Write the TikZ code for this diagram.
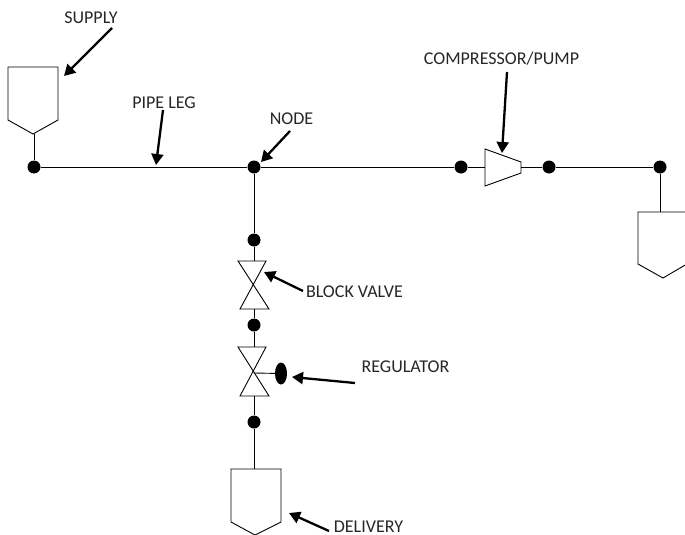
\documentclass[tikz,border=0pt]{standalone}
\usepackage{fontspec}
\setmainfont{Carlito}
\usetikzlibrary{arrows.meta,shapes.geometric}
\tikzset{
  pipe/.style={draw=black,line width=0.9pt},
  junction/.style={circle,fill=black,draw=none,minimum size=13pt,inner sep=0pt},
  pointer/.style={draw=black,line width=2.3pt,-{Triangle[length=11pt,width=12pt]},shorten >=0pt},
  lbl/.style={inner sep=0pt,font=\fontsize{18}{20}\selectfont,text=black!85}
}
\begin{document}
\begin{tikzpicture}[x=1pt,y=-1pt]
\useasboundingbox (0,0) rectangle (685,535);
\clip (0,0) rectangle (685,535);
% tanks and equipment
\draw[pipe] (8,67) -- (58,67) -- (58,120) -- (33,134) -- (8,120) -- cycle;
\coordinate (supplyTip) at (34,134);
\coordinate (supplyEdge) at (64,76);
\draw[pipe] (485,149) -- (521,162) -- (521,173) -- (485,186) -- cycle;
\coordinate (compIn) at (485,167);
\coordinate (compOut) at (521,167);
\coordinate (compTop) at (502,153);
\draw[pipe] (638,212) -- (692,212) -- (692,261) -- (663,278) -- (638,264) -- cycle;
\coordinate (rightTop) at (660,212);
\draw[pipe] (238,261) -- (266,261) -- (240,309) -- (269,309) -- cycle;
\coordinate (valveAtop) at (254,261);
\coordinate (valveAbot) at (254,309);
\coordinate (valveAedge) at (264,272);
\draw[pipe] (238,347) -- (266,347) -- (240,396) -- (269,396) -- cycle;
\coordinate (valveBtop) at (254,347);
\coordinate (valveBbot) at (254,396);
\coordinate (valveBmid) at (254,373);
\draw[pipe] (231,469) -- (281,469) -- (281,522) -- (255,535) -- (231,522) -- cycle;
\coordinate (delTop) at (254,469);
\coordinate (delEdge) at (289,513);
\node[ellipse,fill=black,minimum width=12pt,minimum height=22pt,inner sep=0pt] (reg) at (281,373.5) {};
% junctions
\node[junction] (n1) at (34,167) {};
\node[junction] (n2) at (254,167) {};
\node[junction] (n3) at (461,167) {};
\node[junction] (n4) at (549,167) {};
\node[junction] (n5) at (660,167) {};
\node[junction] (n6) at (254,240) {};
\node[junction] (n7) at (254,325) {};
\node[junction] (n8) at (254,422) {};
% pipes
\draw[pipe] (supplyTip) -- (n1);
\draw[pipe] (n1) -- (n2);
\draw[pipe] (n2) -- (n3);
\draw[pipe] (n3) -- (compIn);
\draw[pipe] (compOut) -- (n4);
\draw[pipe] (n4) -- (n5);
\draw[pipe] (n5) -- (rightTop);
\draw[pipe] (n2) -- (n6);
\draw[pipe] (n6) -- (valveAtop);
\draw[pipe] (valveAbot) -- (n7);
\draw[pipe] (n7) -- (valveBtop);
\draw[pipe] (valveBbot) -- (n8);
\draw[pipe] (n8) -- (delTop);
\draw[pipe] (valveBmid) -- (reg);
% labels
\node[lbl] (tSupply) at (91,17.5) {SUPPLY};
\node[lbl] (tPipe) at (164,102.5) {PIPE LEG};
\node[lbl] (tNode) at (291.5,118.5) {NODE};
\node[lbl] (tComp) at (501.5,58.5) {COMPRESSOR/PUMP};
\node[lbl] (tBlock) at (354.5,291.5) {BLOCK VALVE};
\node[lbl] (tReg) at (405.5,366.5) {REGULATOR};
\node[lbl] (tDel) at (368.5,526.5) {DELIVERY};
% pointers
\coordinate (aSupply) at (112,28);
\coordinate (aPipe) at (163,110);
\coordinate (aPipeEnd) at (156,165);
\coordinate (aNode) at (290,131);
\coordinate (aComp) at (507,72);
\coordinate (aBlock) at (303,291);
\coordinate (aReg) at (355,383);
\coordinate (aRegEnd) at (292,377);
\coordinate (aDel) at (329,531);
\coordinate (aNodeEnd) at (261,162);
\draw[pointer] (aSupply) -- (supplyEdge);
\draw[pointer] (aPipe) -- (aPipeEnd);
\draw[pointer] (aNode) -- (aNodeEnd);
\draw[pointer] (aComp) -- (compTop);
\draw[pointer] (aBlock) -- (valveAedge);
\draw[pointer] (aReg) -- (aRegEnd);
\draw[pointer] (aDel) -- (delEdge);
\end{tikzpicture}
\end{document}
